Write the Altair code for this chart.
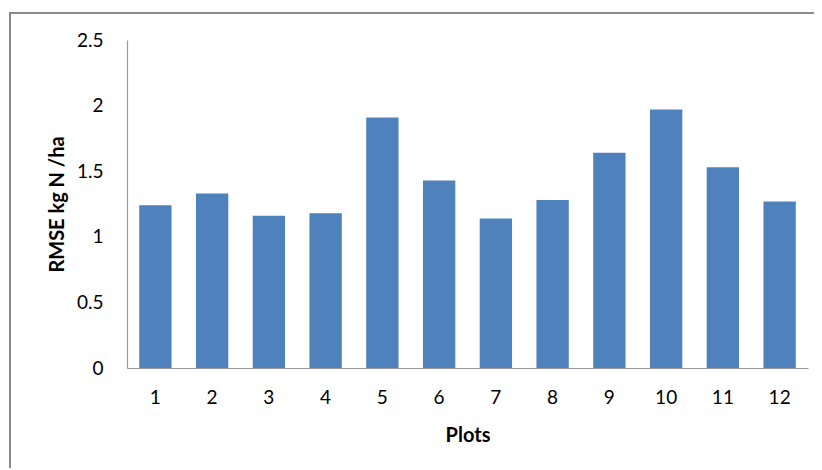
import altair as alt
import pandas as pd

plots = ["1", "2", "3", "4", "5", "6", "7", "8", "9", "10", "11", "12"]
rmse = [1.24, 1.33, 1.16, 1.18, 1.91, 1.43, 1.14, 1.28, 1.64, 1.97, 1.53, 1.27]
y_ticks = [0, 0.5, 1, 1.5, 2, 2.5]

df = pd.DataFrame({"Plots": plots, "RMSE": rmse})

FONT = "Lato"
W, H = 681, 328

bars = alt.Chart(df).mark_bar(color="#4F81BD").encode(
    x=alt.X(
        "Plots:O",
        sort=plots,
        scale=alt.Scale(paddingInner=0.43, paddingOuter=0.215),
        axis=alt.Axis(
            title="Plots",
            labelAngle=0,
            ticks=False,
            tickSize=0,
            labelPadding=20,
            labelFontSize=19,
            labelFont=FONT,
            labelColor="#000000",
            titleFont=FONT,
            titleFontSize=20,
            titleFontWeight="bold",
            titleColor="#000000",
            titleX=W / 2,
            titleY=67,
            titleAlign="center",
            titleBaseline="middle",
            domainColor="#999999",
            domainWidth=1.2,
        ),
    ),
    y=alt.Y(
        "RMSE:Q",
        scale=alt.Scale(domain=[0, 2.5], nice=False),
        axis=alt.Axis(
            title="RMSE kg N /ha",
            values=y_ticks,
            format="~g",
            grid=False,
            ticks=False,
            tickSize=0,
            labelPadding=24,
            labelFontSize=19,
            labelFont=FONT,
            labelColor="#000000",
            titleFont=FONT,
            titleFontSize=20,
            titleFontWeight="bold",
            titleColor="#000000",
            titleAngle=-90,
            titleX=-70,
            titleY=H / 2,
            titleAlign="center",
            titleBaseline="middle",
            domainColor="#999999",
            domainWidth=1.2,
        ),
    ),
)

frame = alt.Chart(df).mark_rect(
    fill=None, stroke="#8a8a8a", strokeWidth=1.5, clip=False
).encode(
    x=alt.value(-117),
    x2=alt.value(740),
    y=alt.value(-27),
    y2=alt.value(480),
)

chart = (
    alt.layer(frame, bars)
    .properties(
        width=W,
        height=H,
        autosize=alt.AutoSizeParams(type="none"),
        padding={"left": 119, "top": 32, "right": 6, "bottom": 100},
    )
    .configure_view(stroke=None)
)

chart.save("out.html", embed_options={"renderer": "svg", "actions": False})
